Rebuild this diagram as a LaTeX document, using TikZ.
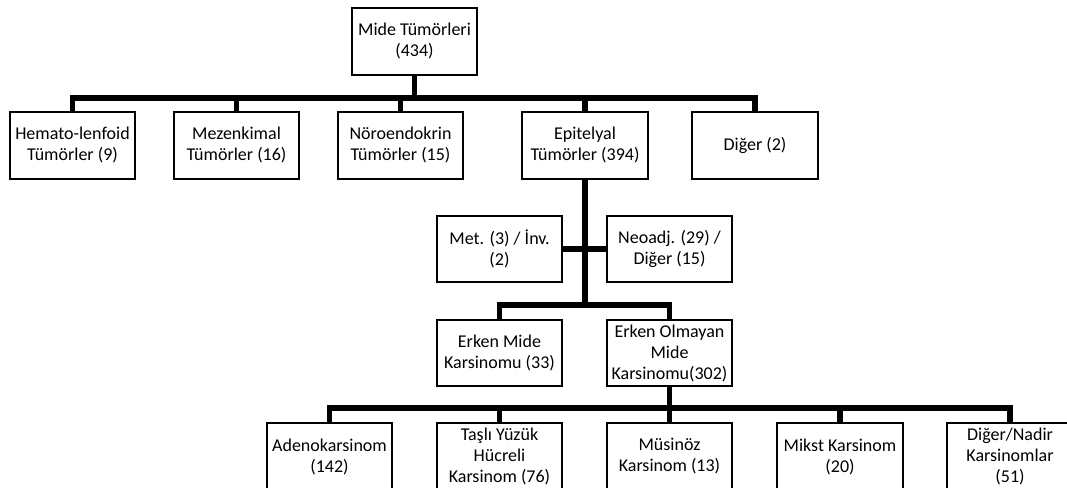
\documentclass[tikz,border=0pt]{standalone}
\usepackage{fontspec}
\setmainfont{Carlito}
\tikzset{
  box/.style={draw, line width=1.5pt, fill=white, align=center, inner sep=2pt,
    minimum width=94pt, minimum height=50pt,
    font=\fontsize{13.5}{15.75}\selectfont},
  conn/.style={line width=4pt}
}
\begin{document}
\begin{tikzpicture}[x=0.75pt, y=-0.75pt]
  \clip (0,0) rectangle (1067,488);
  \fill[white] (0,0) rectangle (1067,488);

  % Coordinates
  \coordinate (b1) at (0, 98);
  \coordinate (b3) at (0, 305);
  \coordinate (b4) at (0, 408);

  % Nodes
  \node[box] (root) at (414.5, 41.5) {Mide Tümörleri\\(434)};
  \node[box] (hem) at (72.5, 145.5) {Hemato-lenfoid\\Tümörler (9)};
  \node[box] (mez) at (236.5, 145.5) {Mezenkimal\\Tümörler (16)};
  \node[box] (nor) at (400.5, 145.5) {Nöroendokrin\\Tümörler (15)};
  \node[box] (epi) at (585, 145.5) {Epitelyal\\Tümörler (394)};
  \node[box] (dig) at (755, 145.5) {Diğer (2)};
  \node[box] (met) at (499.5, 249) {Met. (3) / İnv.\\(2)};
  \node[box] (neo) at (669.5, 249) {Neoadj. (29) /\\Diğer (15)};
  \node[box] (em) at (499.5, 353) {Erken Mide\\Karsinomu (33)};
  \node[box] (eom) at (669.5, 353) {Erken Olmayan\\Mide\\Karsinomu(302)};
  \node[box] (ade) at (329.5, 456.5) {Adenokarsinom\\(142)};
  \node[box] (tas) at (499.5, 456.5) {Taşlı Yüzük\\Hücreli\\Karsinom (76)};
  \node[box] (mus) at (669.5, 456.5) {Müsinöz\\Karsinom (13)};
  \node[box] (mik) at (840, 456.5) {Mikst Karsinom\\(20)};
  \node[box] (nad) at (1010, 456.5) {Diğer/Nadir\\Karsinomlar\\(51)};

  % Drawing
  \draw[conn] (root.south) -- (root.south |- b1);
  \draw[conn] (hem.north) |- (b1 -| dig.north) -- (dig.north);
  \foreach \n in {mez, nor, epi}
    \draw[conn] (\n.north) -- (\n.north |- b1);
  \draw[conn] (epi.south) -- (epi.south |- b3);
  \draw[conn] (met.east) -- (neo.west);
  \draw[conn] (em.north) |- (b3 -| eom.north) -- (eom.north);
  \draw[conn] (eom.south) -- (eom.south |- b4);
  \draw[conn] (ade.north) |- (b4 -| nad.north) -- (nad.north);
  \foreach \n in {tas, mus, mik}
    \draw[conn] (\n.north) -- (\n.north |- b4);
\end{tikzpicture}
\end{document}
